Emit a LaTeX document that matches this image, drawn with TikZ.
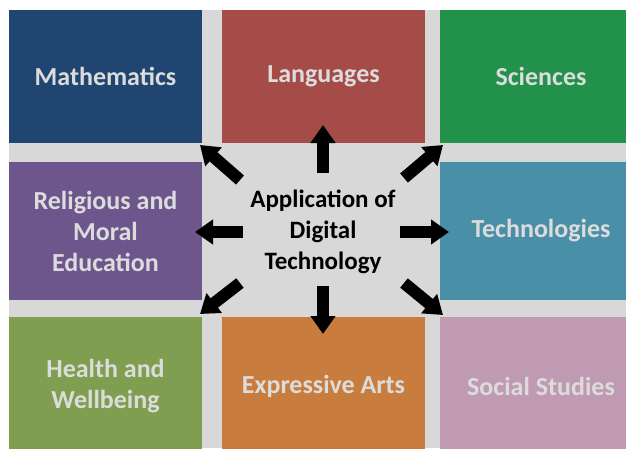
\documentclass[tikz,border=0pt]{standalone}
\usepackage{fontspec}
\setmainfont{Carlito}
\usetikzlibrary{arrows.meta}
\definecolor{bggray}{HTML}{D8D8D8}
\definecolor{tiletext}{HTML}{DCDCDC}
\definecolor{cmath}{HTML}{1F4570}
\definecolor{clang}{HTML}{A54C49}
\definecolor{csci}{HTML}{22914A}
\definecolor{crel}{HTML}{6C568C}
\definecolor{ctech}{HTML}{4A8FA8}
\definecolor{chealth}{HTML}{7F9E4F}
\definecolor{cexpr}{HTML}{C87D3E}
\definecolor{csoc}{HTML}{C09AB2}
\begin{document}
\begin{tikzpicture}[x=1pt,y=-1pt,
  tile/.style={draw=none, inner sep=0pt, text=tiletext, align=center,
    font=\bfseries\fontsize{26}{31}\selectfont},
  bigarrow/.style={line width=12pt, black, -{Triangle[width=24pt,length=18pt]}}]
\useasboundingbox (0,0) rectangle (626,448);
\fill[white] (0,0) rectangle (626,448);
\clip (0,0) rectangle (626,448);
\fill[bggray] (9,10) rectangle (626,448);
% tiles
\node[tile, fill=cmath, minimum width=193pt, minimum height=133pt] (math) at (105.5,76.5) {Mathematics};
\node[tile, fill=clang, minimum width=203pt, minimum height=133pt] (lang) at (323.5,76.5) {Languages};
\node[tile, fill=csci, minimum width=202pt, minimum height=133pt] (sci) at (541,76.5) {Sciences};
\node[tile, fill=crel, minimum width=193pt, minimum height=138pt] (rel) at (105.5,231) {Religious and\\Moral\\Education};
\node[tile, fill=ctech, minimum width=202pt, minimum height=138pt] (tech) at (541,231) {Technologies};
\node[tile, fill=chealth, minimum width=193pt, minimum height=138pt] (health) at (105.5,386) {Health and\\Wellbeing};
\node[tile, fill=cexpr, minimum width=203pt, minimum height=138pt] (expr) at (323.5,386) {Expressive Arts};
\node[tile, fill=csoc, minimum width=202pt, minimum height=138pt] (soc) at (541,386) {Social Studies};
% centre
\node[inner sep=0pt, align=center, text=black, font=\bfseries\fontsize{25}{31}\selectfont] (centre) at (323,232) {Application of\\Digital\\Technology};
% arrow coordinates
\coordinate (uS) at (323,173); \coordinate (uE) at (323,125);
\coordinate (dS) at (323,286); \coordinate (dE) at (323,334);
\coordinate (lS) at (243,232); \coordinate (lE) at (195,232);
\coordinate (rS) at (400,232); \coordinate (rE) at (449,232);
\coordinate (nwS) at (240,180); \coordinate (nwE) at (200,145);
\coordinate (neS) at (404,178); \coordinate (neE) at (443,145);
\coordinate (swS) at (240,283); \coordinate (swE) at (200,314);
\coordinate (seS) at (404,283); \coordinate (seE) at (443,315);
\foreach \a in {u,d,l,r,nw,ne,sw,se}{
  \draw[bigarrow] (\a S) -- (\a E);
}
\end{tikzpicture}
\end{document}
